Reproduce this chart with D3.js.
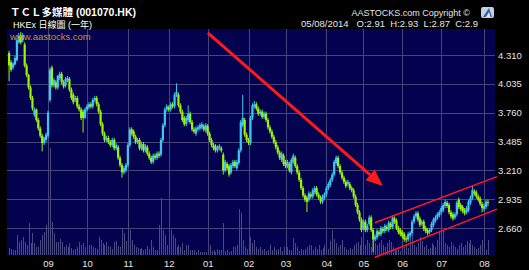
<!DOCTYPE html>
<html>

<head>
    <meta charset="utf-8">
    <script src="https://d3js.org/d3.v7.min.js"></script>
    <style>
        body { margin: 0; background: #000; }
        svg { display: block; }
    </style>
    <script>
        // month ticks: label + index of the first trading day of the month
        const months = ["09", "10", "11", "12", "01", "02", "03", "04", "05", "06", "07", "08"];
        const monthStarts = [20, 40, 61, 82, 102, 123, 142, 163, 182, 202, 222, 244];
        const priceTicks = [4.310, 4.035, 3.760, 3.485, 3.210, 2.935, 2.660];

        // daily OHLC, 05/08/2013 .. 05/08/2014
        const opens = [
            4.33, 4.24, 4.19, 4.22, 4.26, 4.43, 4.50, 4.45, 4.41, 4.21,
            4.12, 4.00, 3.90, 3.74, 3.79, 3.69, 3.61, 3.54, 3.47, 3.50,
            3.54, 3.88, 4.19, 4.02, 4.05, 4.00, 4.09, 4.13, 4.05, 4.02,
            4.07, 4.08, 3.98, 3.93, 3.88, 3.90, 3.82, 3.79, 3.77, 3.71,
            3.79, 3.81, 3.84, 3.82, 3.88, 3.90, 3.84, 3.77, 3.65, 3.56,
            3.50, 3.52, 3.48, 3.45, 3.50, 3.42, 3.43, 3.33, 3.26, 3.19,
            3.21, 3.26, 3.45, 3.60, 3.58, 3.53, 3.48, 3.50, 3.42, 3.46,
            3.40, 3.43, 3.37, 3.33, 3.29, 3.35, 3.33, 3.37, 3.36, 3.50,
            3.64, 3.79, 3.81, 3.79, 3.84, 3.82, 3.93, 3.93, 3.83, 3.77,
            3.71, 3.65, 3.69, 3.75, 3.67, 3.60, 3.56, 3.60, 3.61, 3.62,
            3.63, 3.59, 3.63, 3.56, 3.50, 3.45, 3.44, 3.40, 3.42, 3.42,
            3.36, 3.21, 3.27, 3.25, 3.19, 3.25, 3.29, 3.23, 3.28, 3.40,
            3.64, 3.69, 3.55, 3.50, 3.47, 3.71, 3.82, 3.84, 3.80, 3.75,
            3.77, 3.72, 3.75, 3.69, 3.62, 3.58, 3.53, 3.48, 3.43, 3.38,
            3.31, 3.35, 3.29, 3.25, 3.27, 3.19, 3.29, 3.33, 3.25, 3.19,
            3.12, 3.04, 2.97, 2.95, 2.93, 2.98, 2.96, 3.00, 3.04, 2.98,
            2.95, 2.91, 2.95, 2.98, 3.04, 3.07, 3.12, 3.17, 3.28, 3.33,
            3.25, 3.19, 3.14, 3.10, 3.08, 3.08, 3.04, 3.02, 2.96, 2.88,
            2.81, 2.74, 2.66, 2.72, 2.64, 2.70, 2.76, 2.64, 2.55, 2.57,
            2.62, 2.60, 2.65, 2.63, 2.67, 2.64, 2.70, 2.67, 2.75, 2.73,
            2.66, 2.64, 2.62, 2.60, 2.56, 2.55, 2.59, 2.61, 2.72, 2.77,
            2.80, 2.75, 2.70, 2.72, 2.66, 2.64, 2.62, 2.64, 2.69, 2.73,
            2.76, 2.78, 2.81, 2.83, 2.87, 2.90, 2.88, 2.81, 2.79, 2.76,
            2.79, 2.93, 2.88, 2.86, 2.83, 2.81, 2.83, 2.90, 2.95, 3.01,
            3.00, 2.96, 2.94, 2.89, 2.84, 2.86, 2.91
        ];
        const closes = [
            4.21, 4.17, 4.23, 4.28, 4.45, 4.49, 4.43, 4.50, 4.21, 4.12,
            4.00, 3.90, 3.80, 3.79, 3.69, 3.61, 3.54, 3.47, 3.52, 3.55,
            3.76, 4.17, 4.02, 4.07, 4.00, 4.11, 4.13, 4.05, 4.01, 4.08,
            4.09, 3.98, 3.90, 3.86, 3.90, 3.82, 3.79, 3.71, 3.71, 3.79,
            3.82, 3.84, 3.82, 3.88, 3.90, 3.84, 3.77, 3.65, 3.56, 3.50,
            3.52, 3.48, 3.45, 3.50, 3.42, 3.45, 3.33, 3.26, 3.19, 3.23,
            3.26, 3.45, 3.60, 3.56, 3.53, 3.48, 3.50, 3.42, 3.46, 3.40,
            3.44, 3.37, 3.33, 3.29, 3.35, 3.33, 3.37, 3.35, 3.50, 3.64,
            3.79, 3.82, 3.79, 3.84, 3.82, 3.93, 3.96, 3.83, 3.77, 3.69,
            3.65, 3.71, 3.75, 3.67, 3.60, 3.58, 3.61, 3.62, 3.64, 3.65,
            3.60, 3.64, 3.56, 3.50, 3.45, 3.42, 3.40, 3.43, 3.44, 3.40,
            3.21, 3.29, 3.23, 3.17, 3.26, 3.29, 3.25, 3.29, 3.40, 3.67,
            3.71, 3.55, 3.50, 3.47, 3.71, 3.83, 3.84, 3.80, 3.75, 3.77,
            3.72, 3.75, 3.69, 3.62, 3.58, 3.53, 3.48, 3.43, 3.38, 3.33,
            3.37, 3.27, 3.25, 3.29, 3.21, 3.31, 3.35, 3.25, 3.19, 3.12,
            3.04, 2.97, 2.93, 2.91, 2.99, 2.96, 3.02, 3.04, 2.98, 2.95,
            2.91, 2.96, 2.98, 3.04, 3.08, 3.12, 3.17, 3.29, 3.33, 3.25,
            3.19, 3.14, 3.10, 3.06, 3.10, 3.04, 3.02, 2.96, 2.88, 2.81,
            2.74, 2.64, 2.72, 2.64, 2.68, 2.76, 2.64, 2.55, 2.58, 2.63,
            2.60, 2.66, 2.63, 2.68, 2.65, 2.71, 2.67, 2.76, 2.72, 2.66,
            2.62, 2.60, 2.58, 2.55, 2.55, 2.60, 2.61, 2.72, 2.77, 2.80,
            2.74, 2.69, 2.72, 2.65, 2.63, 2.61, 2.64, 2.70, 2.74, 2.76,
            2.79, 2.81, 2.85, 2.88, 2.91, 2.87, 2.81, 2.77, 2.75, 2.79,
            2.90, 2.86, 2.84, 2.82, 2.80, 2.85, 2.91, 2.95, 3.02, 2.99,
            2.96, 2.93, 2.89, 2.85, 2.87, 2.91, 2.90
        ];
        const highs = [
            4.35, 4.26, 4.24, 4.30, 4.47, 4.52, 4.53, 4.52, 4.43, 4.23,
            4.13, 4.02, 3.92, 3.81, 3.80, 3.71, 3.63, 3.56, 3.53, 3.57,
            3.78, 4.19, 4.21, 4.09, 4.07, 4.12, 4.15, 4.15, 4.07, 4.10,
            4.11, 4.10, 4.00, 3.95, 3.92, 3.92, 3.84, 3.81, 3.79, 3.81,
            3.84, 3.86, 3.86, 3.90, 3.92, 3.92, 3.86, 3.79, 3.67, 3.58,
            3.54, 3.54, 3.50, 3.52, 3.52, 3.47, 3.45, 3.35, 3.28, 3.25,
            3.28, 3.47, 3.62, 3.62, 3.60, 3.55, 3.52, 3.52, 3.48, 3.48,
            3.46, 3.45, 3.39, 3.35, 3.37, 3.37, 3.39, 3.39, 3.52, 3.66,
            3.81, 3.84, 3.83, 3.86, 3.86, 3.95, 4.04, 3.95, 3.85, 3.79,
            3.73, 3.73, 3.83, 3.77, 3.69, 3.62, 3.63, 3.64, 3.66, 3.67,
            3.65, 3.66, 3.65, 3.58, 3.52, 3.47, 3.46, 3.45, 3.46, 3.44,
            3.38, 3.31, 3.29, 3.27, 3.28, 3.31, 3.31, 3.31, 3.42, 3.69,
            3.93, 3.71, 3.57, 3.52, 3.73, 3.85, 3.87, 3.86, 3.82, 3.79,
            3.79, 3.77, 3.77, 3.71, 3.64, 3.60, 3.55, 3.50, 3.45, 3.40,
            3.39, 3.37, 3.31, 3.31, 3.29, 3.33, 3.37, 3.35, 3.27, 3.21,
            3.14, 3.06, 2.99, 2.97, 3.01, 3.00, 3.04, 3.06, 3.06, 3.00,
            2.97, 2.98, 3.00, 3.06, 3.10, 3.14, 3.19, 3.31, 3.35, 3.35,
            3.27, 3.21, 3.16, 3.12, 3.12, 3.10, 3.06, 3.04, 2.98, 2.90,
            2.83, 2.76, 2.74, 2.74, 2.70, 2.78, 2.78, 2.66, 2.60, 2.65,
            2.64, 2.68, 2.67, 2.70, 2.69, 2.73, 2.72, 2.78, 2.77, 2.75,
            2.68, 2.66, 2.64, 2.62, 2.58, 2.62, 2.63, 2.74, 2.79, 2.82,
            2.82, 2.77, 2.74, 2.74, 2.68, 2.66, 2.66, 2.72, 2.76, 2.78,
            2.81, 2.83, 2.87, 2.90, 2.93, 2.92, 2.90, 2.83, 2.81, 2.81,
            2.92, 2.95, 2.90, 2.88, 2.85, 2.87, 2.93, 2.97, 3.07, 3.03,
            3.02, 2.98, 2.96, 2.91, 2.89, 2.93, 2.93
        ];
        const lows = [
            4.06, 4.15, 4.17, 4.21, 4.25, 4.42, 4.41, 4.43, 4.19, 4.10,
            3.98, 3.88, 3.78, 3.72, 3.67, 3.59, 3.52, 3.39, 3.45, 3.48,
            3.52, 3.86, 4.00, 4.00, 3.98, 3.98, 4.07, 4.03, 3.99, 4.00,
            4.05, 3.96, 3.88, 3.84, 3.86, 3.80, 3.77, 3.69, 3.57, 3.70,
            3.77, 3.79, 3.80, 3.80, 3.86, 3.82, 3.75, 3.63, 3.54, 3.48,
            3.48, 3.46, 3.43, 3.43, 3.40, 3.40, 3.31, 3.24, 3.14, 3.17,
            3.19, 3.24, 3.43, 3.54, 3.51, 3.46, 3.46, 3.40, 3.40, 3.38,
            3.38, 3.35, 3.31, 3.27, 3.27, 3.31, 3.31, 3.33, 3.34, 3.48,
            3.62, 3.77, 3.77, 3.77, 3.80, 3.80, 3.91, 3.81, 3.75, 3.67,
            3.63, 3.63, 3.67, 3.65, 3.58, 3.56, 3.54, 3.58, 3.59, 3.60,
            3.58, 3.57, 3.54, 3.48, 3.43, 3.40, 3.38, 3.38, 3.40, 3.38,
            3.17, 3.19, 3.21, 3.15, 3.17, 3.23, 3.23, 3.21, 3.26, 3.38,
            3.62, 3.53, 3.48, 3.45, 3.45, 3.69, 3.80, 3.78, 3.73, 3.73,
            3.70, 3.70, 3.67, 3.60, 3.56, 3.51, 3.46, 3.41, 3.36, 3.31,
            3.29, 3.25, 3.23, 3.23, 3.19, 3.17, 3.27, 3.23, 3.17, 3.10,
            3.02, 2.95, 2.91, 2.81, 2.91, 2.94, 2.94, 2.98, 2.96, 2.93,
            2.89, 2.89, 2.93, 2.96, 3.02, 3.05, 3.10, 3.15, 3.26, 3.23,
            3.17, 3.12, 3.08, 3.04, 3.06, 3.02, 3.00, 2.94, 2.86, 2.79,
            2.72, 2.62, 2.64, 2.62, 2.62, 2.68, 2.62, 2.43, 2.53, 2.55,
            2.58, 2.58, 2.61, 2.61, 2.63, 2.62, 2.65, 2.65, 2.70, 2.64,
            2.60, 2.58, 2.56, 2.53, 2.52, 2.53, 2.57, 2.59, 2.70, 2.75,
            2.72, 2.67, 2.68, 2.63, 2.61, 2.59, 2.60, 2.62, 2.67, 2.71,
            2.74, 2.76, 2.79, 2.81, 2.85, 2.85, 2.79, 2.75, 2.73, 2.74,
            2.77, 2.84, 2.82, 2.80, 2.78, 2.79, 2.81, 2.88, 2.93, 2.97,
            2.94, 2.91, 2.87, 2.81, 2.82, 2.84, 2.87
        ];
        // volume, million shares
        const volumes = [
            0.7, 0.6, 0.5, 0.5, 2.0, 1.3, 1.5, 1.8, 1.3, 1.0,
            3.2, 1.2, 2.2, 1.2, 0.8, 0.8, 1.5, 2.0, 2.3, 3.0,
            3.2, 10.7, 3.3, 2.2, 1.3, 1.3, 1.6, 1.3, 0.8, 1.0,
            0.8, 1.2, 0.7, 0.5, 0.6, 0.8, 1.3, 1.0, 1.2, 0.8,
            0.5, 1.0, 1.0, 0.8, 0.7, 0.6, 1.8, 1.5, 1.2, 1.0,
            1.3, 0.9, 0.8, 0.6, 1.3, 1.4, 0.9, 0.8, 2.7, 2.2,
            1.4, 3.5, 2.5, 1.5, 1.0, 0.8, 0.7, 0.6, 0.7, 0.5,
            0.6, 0.9, 0.6, 1.5, 0.8, 0.5, 0.5, 3.0, 5.7, 2.5,
            2.0, 1.0, 1.5, 2.5, 2.0, 1.7, 0.8, 1.0, 0.8, 1.2,
            0.5, 1.0, 1.0, 0.5, 0.5, 0.5, 0.3, 0.5, 0.3, 0.3,
            0.3, 0.3, 0.3, 1.0, 0.4, 0.5, 0.3, 0.6, 0.5, 0.5,
            3.2, 0.4, 0.5, 0.3, 0.4, 0.8, 0.8, 1.0, 4.6, 4.2,
            1.5, 0.8, 0.6, 1.0, 1.8, 1.2, 1.5, 0.8, 0.6, 0.8,
            0.5, 0.6, 0.4, 0.5, 1.0, 0.5, 0.8, 0.5, 0.6, 0.8,
            0.4, 0.8, 0.5, 0.8, 0.5, 0.5, 1.7, 1.2, 0.8, 0.4,
            0.6, 0.5, 0.6, 0.8, 1.0, 1.0, 0.5, 0.8, 0.6, 1.0,
            0.5, 0.7, 1.0, 1.2, 0.6, 1.4, 2.5, 1.6, 1.2, 0.8,
            1.0, 1.5, 0.8, 0.6, 0.5, 0.7, 0.6, 1.0, 1.2, 1.3,
            1.0, 1.8, 1.4, 1.0, 1.5, 1.2, 0.8, 1.5, 1.2, 1.0,
            1.2, 1.5, 1.0, 0.8, 1.2, 1.5, 1.3, 0.8, 0.6, 0.5,
            0.6, 0.4, 0.5, 0.8, 1.0, 0.7, 2.3, 2.0, 1.0, 0.8,
            1.2, 1.8, 1.4, 0.8, 1.0, 0.6, 0.7, 1.2, 1.0, 0.8,
            1.5, 2.3, 2.5, 2.5, 1.2, 1.0, 0.8, 1.3, 1.0, 0.8,
            0.6, 1.0, 1.2, 0.8, 1.0, 1.4, 1.2, 1.5, 1.0, 0.8,
            0.6, 0.7, 1.0, 1.5, 1.2, 0.5, 1.5
        ];

        // hand drawn annotations, [day index, price]
        const trendArrow = [[102.1, 4.52], [192.0, 3.06]];
        const channelUpper = [[187.9, 2.71], [250.6, 3.15]];
        const channelLower = [[187.9, 2.38], [250.6, 2.84]];

        let width = 529;
        let height = 270;
        let plot = { left: 7, right: 495, top: 29, bottom: 255 };
        let cjkFont = "'Liberation Sans', 'Noto Sans CJK TC', sans-serif";

        function draw() {
            let svg = d3.select('body').append('svg')
                .attr('width', width)
                .attr('height', height);

            svg.append("rect")
                .attr("width", width).attr("height", height)
                .attr("fill", "#000");

            let x_scale = d3.scaleLinear()
                .domain([-1.08, 249.6])
                .range([plot.left, plot.right]);

            let y_scale = d3.scaleLinear()
                .domain([2.4025, 4.558])
                .range([plot.bottom, plot.top]);

            let v_scale = d3.scaleLinear()
                .domain([0, 11])
                .range([plot.bottom, plot.bottom - 110]);

            svg.append("defs").append("clipPath").attr("id", "clip")
                .append("rect")
                .attr("x", plot.left).attr("y", plot.top)
                .attr("width", plot.right - plot.left)
                .attr("height", plot.bottom - plot.top);

            svg.append("rect")
                .attr("x", plot.left).attr("y", plot.top)
                .attr("width", plot.right - plot.left)
                .attr("height", plot.bottom - plot.top)
                .attr("fill", "#02024f");

            let body = svg.append("g").attr("clip-path", "url(#clip)");

            // grid
            body.selectAll("line.hgrid")
                .data(priceTicks)
                .join("line")
                .attr("class", "hgrid")
                .attr("x1", plot.left).attr("x2", plot.right)
                .attr("y1", d => Math.round(y_scale(d)) + 0.5)
                .attr("y2", d => Math.round(y_scale(d)) + 0.5)
                .attr("stroke", "#45457c");

            body.selectAll("line.vgrid")
                .data(monthStarts)
                .join("line")
                .attr("class", "vgrid")
                .attr("x1", d => Math.round(x_scale(d)) + 0.5)
                .attr("x2", d => Math.round(x_scale(d)) + 0.5)
                .attr("y1", plot.top).attr("y2", plot.bottom)
                .attr("stroke", "#45457c");

            // volume
            body.selectAll("rect.vol")
                .data(volumes)
                .join("rect")
                .attr("class", "vol")
                .attr("x", (d, i) => Math.round(x_scale(i)))
                .attr("width", 1)
                .attr("y", d => v_scale(d))
                .attr("height", d => plot.bottom - v_scale(d))
                .attr("fill", "#4a4a82");

            // candles
            let days = d3.range(closes.length);
            let color = i => closes[i] >= opens[i] ? "#3ec6f2" : "#9cf20a";

            body.selectAll("line.wick")
                .data(days)
                .join("line")
                .attr("class", "wick")
                .attr("x1", i => x_scale(i))
                .attr("x2", i => x_scale(i))
                .attr("y1", i => y_scale(highs[i]))
                .attr("y2", i => y_scale(lows[i]))
                .attr("stroke", color)
                .attr("stroke-width", 1);

            body.selectAll("rect.candle")
                .data(days)
                .join("rect")
                .attr("class", "candle")
                .attr("x", i => x_scale(i) - 1.1)
                .attr("width", 2.2)
                .attr("y", i => y_scale(Math.max(opens[i], closes[i])))
                .attr("height", i => Math.max(1, Math.abs(y_scale(opens[i]) - y_scale(closes[i]))))
                .attr("fill", color);

            // red annotations
            let line = d3.line()
                .x(d => x_scale(d[0]))
                .y(d => y_scale(d[1]));

            [channelUpper, channelLower].forEach(c => {
                svg.append("path")
                    .attr("d", line(c))
                    .attr("stroke", "#ff1a1a")
                    .attr("stroke-width", 1.6)
                    .attr("fill", "none");
            });

            let a0 = [x_scale(trendArrow[0][0]), y_scale(trendArrow[0][1])];
            let a1 = [x_scale(trendArrow[1][0]), y_scale(trendArrow[1][1])];
            let ang = Math.atan2(a1[1] - a0[1], a1[0] - a0[0]);
            let headLen = 17, headW = 7;
            let base = [a1[0] - headLen * Math.cos(ang), a1[1] - headLen * Math.sin(ang)];
            svg.append("line")
                .attr("x1", a0[0]).attr("y1", a0[1])
                .attr("x2", base[0]).attr("y2", base[1])
                .attr("stroke", "#ff1a1a")
                .attr("stroke-width", 3);
            svg.append("path")
                .attr("d", "M" + a1 + "L" +
                    [base[0] + headW * Math.sin(ang), base[1] - headW * Math.cos(ang)] + "L" +
                    [base[0] - headW * Math.sin(ang), base[1] + headW * Math.cos(ang)] + "Z")
                .attr("fill", "#ff1a1a");

            // axes
            let y_axis = svg.append("g");
            y_axis.selectAll("text")
                .data(priceTicks)
                .join("text")
                .attr("x", 498)
                .attr("y", d => y_scale(d) + 3.5)
                .style("font-family", "Liberation Sans, Arial, sans-serif")
                .style("font-size", "9.5px")
                .style("fill", "#e6e6e6")
                .text(d => d3.format(".3f")(d));

            let x_axis = svg.append("g");
            x_axis.selectAll("text")
                .data(monthStarts)
                .join("text")
                .attr("x", d => x_scale(d) + 0.5)
                .attr("y", 267)
                .style("text-anchor", "middle")
                .style("font-family", "Liberation Sans, Arial, sans-serif")
                .style("font-size", "9.5px")
                .style("fill", "#e6e6e6")
                .text((d, i) => months[i]);

            // header texts
            svg.append("text")
                .attr("x", 10).attr("y", 15.5)
                .style("font-family", cjkFont)
                .style("font-weight", "bold")
                .style("font-size", "10.5px")
                .style("fill", "#fff")
                .text("ＴＣＬ多媒體 (001070.HK)");

            svg.append("text")
                .attr("x", 13).attr("y", 27.5)
                .style("font-family", cjkFont)
                .style("font-size", "9px")
                .style("fill", "#fff")
                .text("HKEx  日線圖 (一年)");

            svg.append("text")
                .attr("x", 10).attr("y", 39.5)
                .style("font-family", "Liberation Sans, Arial, sans-serif")
                .style("font-size", "9.5px")
                .style("fill", "#c99a1c")
                .text("www.aastocks.com");

            svg.append("text")
                .attr("x", 470).attr("y", 16)
                .style("text-anchor", "end")
                .style("font-family", "Liberation Sans, Arial, sans-serif")
                .style("font-size", "9px")
                .style("fill", "#e6e6e6")
                .text("AASTOCKS.com Copyright ©");

            svg.append("text")
                .attr("x", 478).attr("y", 27)
                .style("text-anchor", "end")
                .style("font-family", "Liberation Sans, Arial, sans-serif")
                .style("font-size", "9.5px")
                .style("fill", "#e6e6e6")
                .attr("xml:space", "preserve")
                .text("05/08/2014   O:2.91  H:2.93  L:2.87  C:2.9");

            // logo
            let logo = svg.append("g").attr("transform", "translate(481,7)");
            logo.append("rect")
                .attr("width", 13).attr("height", 11).attr("rx", 2)
                .attr("fill", "#c9cfe0");
            logo.append("path")
                .attr("d", "M2,10 L8,1 L11,10 Z")
                .attr("fill", "#2a5fb8");
            logo.append("path")
                .attr("d", "M5,10 L8,5 L9.5,10 Z")
                .attr("fill", "#e8ecf5");
        }
    </script>
</head>

<body>
    <script>
        draw();
    </script>
</body>

</html>
